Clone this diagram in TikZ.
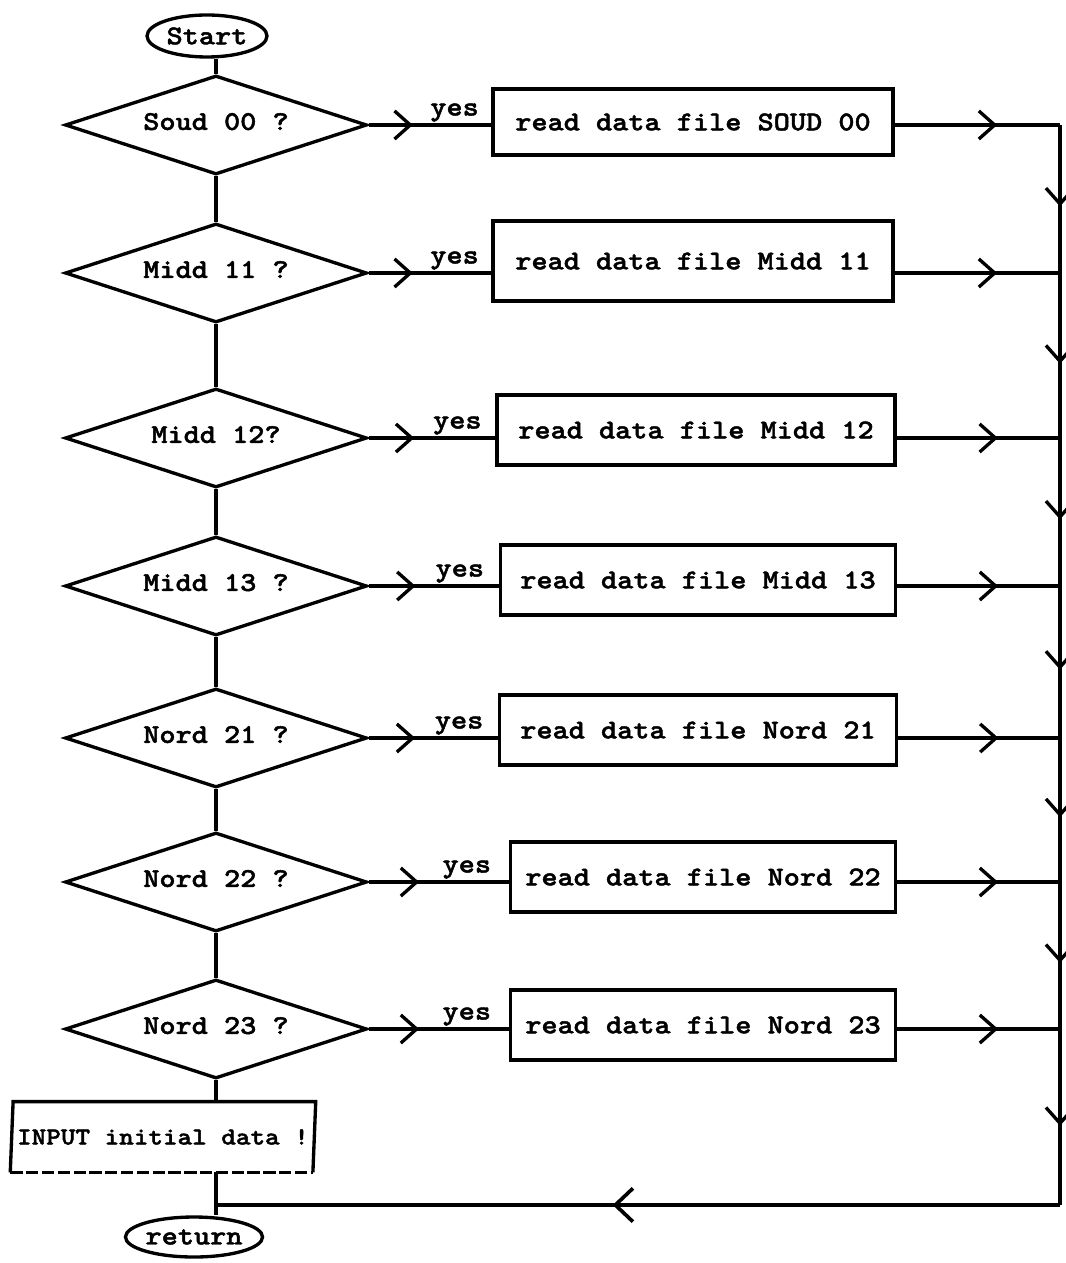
\documentclass[tikz,border=0pt]{standalone}
\usepackage{fontspec}
\newfontfamily\tw{lmmonolt10-bold.otf}[FakeStretch=1.13,FakeBold=1.6]
\usetikzlibrary{shapes.geometric,arrows.meta,decorations.markings}

\begin{document}
\begin{tikzpicture}[x=0.02cm,y=-0.02cm,
  every node/.style={font=\tw\fontsize{15.5pt}{18pt}\selectfont},
  flow/.style={line width=1.9pt},
  question/.style={diamond, shape aspect=3, draw, line width=1.9pt,
    minimum width=6.04cm, minimum height=1.98cm, inner sep=0pt},
  action/.style={rectangle, draw, line width=1.9pt, minimum height=1.4cm,
    inner sep=0pt},
  terminal/.style={ellipse, draw, line width=1.9pt, minimum height=0.8cm,
    inner sep=0pt},
  yeslabel/.style={pos=0.7, anchor=south, inner sep=1pt},
  midarrow/.style={postaction={decorate}, decoration={markings,
    mark=at position #1 with {\arrow[line width=1.9pt]{Straight Barb[length=9pt,width=16pt]}}}},
  bigarrow/.style={postaction={decorate}, decoration={markings,
    mark=at position #1 with {\arrow[line width=2.1pt]{Straight Barb[length=10pt,width=19pt]}}}}
]
\useasboundingbox (0,0) rectangle (1065,1263);

% terminals
\node[terminal, minimum width=2.4cm, minimum height=0.84cm] (start) at (207,36) {Start};
\node[terminal, minimum width=2.5cm] (ret) at (194,1237) {return};

% decisions
\node[question] (d1) at (216,125)  {\raisebox{4pt}{Soud 00 ?}};
\node[question] (d2) at (216,273)  {\raisebox{4pt}{Midd 11 ?}};
\node[question] (d3) at (216,438)  {\raisebox{4pt}{Midd 12?}};
\node[question] (d4) at (216,586)  {\raisebox{4pt}{Midd 13 ?}};
\node[question] (d5) at (216,738)  {\raisebox{4pt}{Nord 21 ?}};
\node[question] (d6) at (216,882)  {\raisebox{4pt}{Nord 22 ?}};
\node[question] (d7) at (216,1029) {\raisebox{4pt}{Nord 23 ?}};

% file reading steps
\node[action, minimum width=8.0cm,  minimum height=1.32cm] (b1) at (693,122)  {read data file SOUD 00};
\node[action, minimum width=8.0cm,  minimum height=1.6cm]  (b2) at (693,261)  {read data file Midd 11};
\node[action, minimum width=7.96cm] (b3) at (696,430)  {read data file Midd 12};
\node[action, minimum width=7.9cm]  (b4) at (698,580)  {read data file Midd 13};
\node[action, minimum width=7.94cm] (b5) at (698,730)  {read data file Nord 21};
\node[action, minimum width=7.7cm]  (b6) at (703,877)  {read data file Nord 22};
\node[action, minimum width=7.7cm]  (b7) at (703,1025) {read data file Nord 23};

% input step (parallelogram, dashed lower edge)
\node[trapezium, trapezium left angle=80, trapezium right angle=100,
      trapezium stretches=true, minimum width=6.1cm, minimum height=1.4cm,
      inner sep=0pt, font=\tw\fontsize{14pt}{16pt}\selectfont] (inp) at (163,1137)
      {INPUT initial data !};
\draw[flow] (inp.bottom left corner) -- (inp.top left corner)
  -- (inp.top right corner) -- (inp.bottom right corner);
\draw[flow, dash pattern=on 7pt off 2pt] (inp.bottom left corner) -- (inp.bottom right corner);

% collecting rail on the right
\coordinate (rail) at (1060,0);
\foreach \i in {1,...,7} { \coordinate (r\i) at (d\i.east -| rail); }
\coordinate (rb) at (1060,1205);
\coordinate (join) at (d7.south |- rb);

% main column
\draw[flow] (d1.north |- start.south) -- (d1.north);
\draw[flow] (d1.south) -- (d2.north);
\draw[flow] (d2.south) -- (d3.north);
\draw[flow] (d3.south) -- (d4.north);
\draw[flow] (d4.south) -- (d5.north);
\draw[flow] (d5.south) -- (d6.north);
\draw[flow] (d6.south) -- (d7.north);
\draw[flow] (d7.south) -- (d7.south |- inp.north);
\draw[flow] (d7.south |- inp.south) -- (d7.south |- ret.north);

% yes branches
\foreach \i in {1,...,7} {
  \draw[flow, midarrow=0.36] (d\i.east) -- (d\i.east -| b\i.west)
    node[yeslabel] {yes};
  \draw[flow, midarrow=0.62] (d\i.east -| b\i.east) -- (r\i);
}

% rail downwards and back to return
\draw[flow, midarrow=0.55] (r1) -- (r2);
\draw[flow, midarrow=0.55] (r2) -- (r3);
\draw[flow, midarrow=0.55] (r3) -- (r4);
\draw[flow, midarrow=0.55] (r4) -- (r5);
\draw[flow, midarrow=0.55] (r5) -- (r6);
\draw[flow, midarrow=0.55] (r6) -- (r7);
\draw[flow, midarrow=0.55] (r7) -- (rb);
\draw[flow, bigarrow=0.53] (rb) -- (join);
\end{tikzpicture}
\end{document}
